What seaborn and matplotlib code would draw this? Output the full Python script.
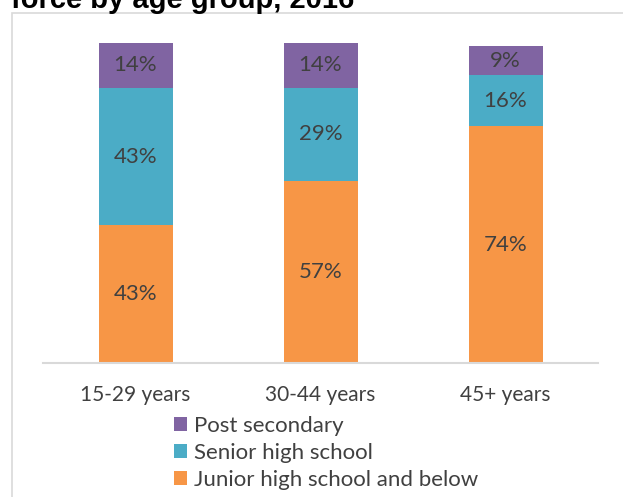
import matplotlib
matplotlib.use("Agg")
import matplotlib.pyplot as plt
import seaborn as sns
import pandas as pd
import numpy as np
from matplotlib.patches import Rectangle, Patch

categories = ["15-29 years", "30-44 years", "45+ years"]
junior = [43, 57, 74]
senior = [43, 29, 16]
post = [14, 14, 9]
series_names = ["Post secondary", "Senior high school", "Junior high school and below"]
colors = {"Post secondary": "#8064A2", "Senior high school": "#4BACC6",
          "Junior high school and below": "#F79646"}
title = "force by age group, 2016"

sns.set_style("white")
plt.rcParams["font.family"] = ["Lato", "DejaVu Sans"]
TXT = "#404040"

W, H = 623, 497
fig = plt.figure(figsize=(W / 100, H / 100), dpi=100)

# outer chart border (extends past right and bottom edges)
fig.patches.append(Rectangle((12 / W, -0.1), 1.2, 0.1 + (H - 13) / H, transform=fig.transFigure,
                             fill=False, edgecolor="#D9D9D9", linewidth=1.2))
fig.text(11 / W, (H - 8) / H, title, fontsize=21, fontweight="bold",
         family=["Liberation Sans", "DejaVu Sans"], va="baseline", ha="left", color="black")

ax = fig.add_axes([43 / W, (H - 363) / H, 555 / W, 320 / H])

j = np.array(junior)
s = np.array(senior)
p = np.array(post)
df = pd.DataFrame({"cat": categories, "top": j + s + p, "mid": j + s, "low": j})

sns.barplot(data=df, x="cat", y="top", color=colors["Post secondary"], width=0.4,
            saturation=1, ax=ax, edgecolor="none")
sns.barplot(data=df, x="cat", y="mid", color=colors["Senior high school"], width=0.4,
            saturation=1, ax=ax, edgecolor="none")
sns.barplot(data=df, x="cat", y="low", color=colors["Junior high school and below"], width=0.4,
            saturation=1, ax=ax, edgecolor="none")

for i in range(len(categories)):
    ax.text(i, j[i] / 2, f"{j[i]}%", ha="center", va="center", fontsize=16, color=TXT)
    ax.text(i, j[i] + s[i] / 2, f"{s[i]}%", ha="center", va="center", fontsize=16, color=TXT)
    ax.text(i, j[i] + s[i] + p[i] / 2, f"{p[i]}%", ha="center", va="center", fontsize=16, color=TXT)

ax.set_ylim(0, 100)
ax.set_xlim(-0.5, 2.5)
ax.set_xlabel("")
ax.set_ylabel("")
ax.set_yticks([])
ax.tick_params(axis="x", length=0, pad=16, labelsize=15, labelcolor=TXT)
for side in ["top", "right", "left"]:
    ax.spines[side].set_visible(False)
ax.spines["bottom"].set_color("#D9D9D9")
ax.spines["bottom"].set_linewidth(1.5)
ax.set_facecolor("none")

handles = [Patch(facecolor=colors[n], edgecolor="none") for n in series_names]
fig.legend(handles, series_names, loc="upper left",
           bbox_to_anchor=(174 / W, (H - 416) / H), frameon=False, fontsize=16,
           handlelength=0.6, handleheight=0.6, handletextpad=0.3,
           labelspacing=0.32, borderpad=0, borderaxespad=0, labelcolor=TXT)

fig.savefig("out.png", dpi=100)
